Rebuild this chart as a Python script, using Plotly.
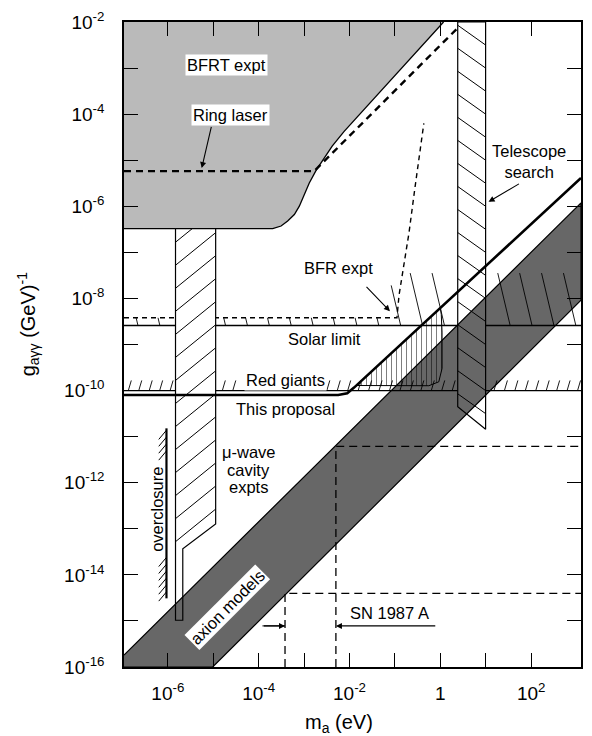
import numpy as np
import plotly.graph_objects as go

FONT = "Liberation Sans, Arial, sans-serif"

# Axis extents in log10 units: m_a in eV, g in GeV^-1
X_RANGE = [-6.965, 3.096]
Y_RANGE = [-16.0, -2.0]

# BFRT exclusion boundary (top edge -> bottom-left), log10 units
bfrt_log_m = [0.07, -2.118, -2.382, -2.557, -2.733, -2.886, -2.996, -3.105,
              -3.215, -3.362, -3.507, -3.691, -6.965]
bfrt_log_g = [-2.0, -4.373, -4.696, -4.955, -5.214, -5.494, -5.747, -5.997,
              -6.178, -6.321, -6.428, -6.487, -6.487]

# Ring laser sensitivity (dashed)
ring_log_m = [-6.965, -2.776, 0.513]
ring_log_g = [-5.236, -5.236, -2.0]

# BFR experiment limit (dashed)
bfr_log_m = [-6.965, -0.956, -0.91, -0.80, -0.69, -0.56, -0.364]
bfr_log_g = [-8.42, -8.42, -7.93, -7.28, -6.57, -5.60, -4.20]

# Horizontal astrophysical limits
solar_log_g = -8.586
red_giant_log_g = -10.0

# This proposal: sensitivity line and the near-1 eV region
prop_log_m = [-6.965, -2.25, -2.05, -1.90, 3.096]
prop_log_g = [-10.095, -10.095, -10.06, -9.936, -5.387]
prop_reg_log_m = [-1.84, 0.0, 0.02, 0.037, 0.037, -0.035, -0.254, -1.84]
prop_reg_log_g = [-9.89, -8.206, -8.35, -8.73, -9.52, -9.81, -9.895, -9.89]

# Telescope search band
tel_log_m = [0.382, 0.996, 0.996, 0.382]
tel_log_g = [-2.0, -2.0, -10.84, -10.35]

# Microwave cavity experiments (outline, and hatched wide part)
cav_log_m = [-5.831, -4.947, -4.947, -5.671, -5.671, -5.831, -5.831]
cav_log_g = [-6.487, -6.487, -12.893, -13.432, -14.985, -14.985, -6.487]
cav_hatch_log_m = [-5.831, -4.947, -4.947, -5.671, -5.831]
cav_hatch_log_g = [-6.487, -6.487, -12.893, -13.432, -13.432]

# Axion model band
axion_log_m = [-6.965, 3.096, 3.096, -5.013, -6.965]
axion_log_g = [-15.74, -5.926, -8.04, -16.0, -16.0]

# Overclosure bound and the two hatched stretches beside its label
over_log_m = -6.03
over_log_g = [-10.82, -14.51]
over_hatch_spans = [(-10.86, -11.36), (-13.62, -14.45)]

# SN 1987A bounds
sn_log_m = [-3.42, -2.30]
sn_log_g = [-14.40, -11.21]
sn_arrow_log_g = -15.108

# Text labels
label_text = ["BFRT expt", "Ring laser", "Telescope<br>search", "BFR expt",
              "Solar limit", "Red giants", "This proposal", "μ-wave", "cavity",
              "expts", "overclosure", "axion models", "SN 1987 A"]
label_log_m = [-4.706, -4.618, 1.961, -2.25, -2.557, -3.412, -3.412, -4.224,
               -4.224, -4.224, -6.241, -4.684, -1.110]
label_log_g = [-2.928, -4.028, -5.02, -7.349, -8.881, -9.765, -10.39, -11.34,
               -11.728, -12.095, -12.57, -14.705, -14.834]
label_angle = [0, 0, 0, 0, 0, 0, 0, 0, 0, 0, -90, -45, 0]
label_boxed = [True, True, False, False, False, True, False, False, False,
               False, False, True, False]

# Pointer arrows (head, tail)
arrow_head_m = [-5.254, 1.061, -1.110, -3.42, -2.30]
arrow_head_g = [-5.171, -5.904, -8.277, sn_arrow_log_g, sn_arrow_log_g]
arrow_tail_m = [-5.035, 1.763, -1.658, -3.917, -0.079]
arrow_tail_g = [-4.243, -5.494, -7.716, sn_arrow_log_g, sn_arrow_log_g]

# Decade ticks: labelled (even) and unlabelled (odd) exponents
x_major_exp = [-6, -4, -2, 0, 2]
x_minor_exp = [-5, -3, -1, 1]
y_major_exp = list(range(-16, -1, 2))
y_minor_exp = list(range(-15, -2, 2))


def pw(vals):
    return [None if v is None else 10.0 ** v for v in vals]


fig = go.Figure()


def add_line(xs, ys, width=1.2, dash="solid", color="black"):
    fig.add_trace(go.Scatter(
        x=pw(xs), y=pw(ys), mode="lines",
        line=dict(color=color, width=width, dash=dash),
        hoverinfo="skip", showlegend=False))


def add_fill(xs, ys, fillcolor, line_width=0.0, pattern=None):
    kw = {}
    if pattern is not None:
        kw["fillpattern"] = pattern
    fig.add_trace(go.Scatter(
        x=pw(xs), y=pw(ys), mode="lines", fill="toself", fillcolor=fillcolor,
        line=dict(color="black", width=line_width),
        hoverinfo="skip", showlegend=False, **kw))


def clip_convex(px, py, p0, d):
    """Clip the infinite line p0 + t*d to a convex polygon (Cyrus-Beck)."""
    pts = np.column_stack([px, py]).astype(float)
    area = 0.5 * np.sum(pts[:, 0] * np.roll(pts[:, 1], -1)
                        - np.roll(pts[:, 0], -1) * pts[:, 1])
    t0, t1 = -1e9, 1e9
    for i in range(len(pts)):
        a, b = pts[i], pts[(i + 1) % len(pts)]
        e = b - a
        n = np.array([-e[1], e[0]]) if area > 0 else np.array([e[1], -e[0]])
        num = np.dot(n, np.asarray(p0) - a)
        den = np.dot(n, d)
        if abs(den) < 1e-12:
            if num < 0:
                return None
            continue
        t = -num / den
        if den > 0:
            t0 = max(t0, t)
        else:
            t1 = min(t1, t)
    if t1 <= t0:
        return None
    p0 = np.asarray(p0)
    return p0 + t0 * d, p0 + t1 * d


def hatch_lines(px, py, slope, step):
    """Parallel lines of a given slope (decades/decade) filling a convex polygon."""
    d = np.array([1.0, slope])
    x0 = min(px)
    span = abs(slope) * (max(px) - min(px))
    xs, ys = [], []
    for c in np.arange(max(py) + span, min(py) - span, -step):
        seg = clip_convex(px, py, (x0, c), d)
        if seg is None:
            continue
        (ax, ay), (bx, by) = seg
        xs += [ax, bx, None]
        ys += [ay, by, None]
    return xs, ys


def in_band(x0, x1):
    lo, hi = min(x0, x1), max(x0, x1)
    for a, b in ((cav_log_m[0], cav_log_m[1]), (tel_log_m[0], tel_log_m[1])):
        if hi > a - 0.02 and lo < b + 0.02:
            return True
    return False


# BFRT region
add_fill(bfrt_log_m + [X_RANGE[0]], bfrt_log_g + [Y_RANGE[1]], "#bababa")
add_line(bfrt_log_m, bfrt_log_g, width=1.3)

# Ring laser and BFR dashed curves
add_line(ring_log_m, ring_log_g, width=2.4, dash="7px,5px")
add_line(bfr_log_m, bfr_log_g, width=1.4, dash="5px,4px")

# White backgrounds of the telescope and cavity bands
add_fill(tel_log_m, tel_log_g, "white")
add_fill(cav_log_m, cav_log_g, "white")

# Axion model band
add_fill(axion_log_m, axion_log_g, "#676767", line_width=1.2)

# Hatching of telescope and cavity bands, and their outlines
hx, hy = hatch_lines(tel_log_m, tel_log_g, -0.7, 0.5)
add_line(hx, hy, width=1.0)
add_line(tel_log_m + [tel_log_m[0]], tel_log_g + [tel_log_g[0]], width=1.2)
hx, hy = hatch_lines(cav_hatch_log_m, cav_hatch_log_g, 0.8, 0.5)
add_line(hx, hy, width=1.0)
add_line(cav_log_m, cav_log_g, width=1.2)

# Solar limit with hatching on the excluded side
xl, xr = X_RANGE
cl, cr = cav_log_m[0], cav_log_m[1]
tl, tr = tel_log_m[0], tel_log_m[1]
add_line([xl, cl, None, cr, tl, None, tr, xr],
         [solar_log_g, solar_log_g, None, solar_log_g, solar_log_g, None,
          solar_log_g, solar_log_g], width=1.6)
hx, hy = [], []
for xb in np.arange(-6.658, 3.05, 0.482):
    top = min(float(np.interp(xb, bfr_log_m, bfr_log_g)), -7.45)
    xt = xb - 0.24 * (top - solar_log_g)
    if in_band(xt, xb) or xt < xl:
        continue
    hx += [xb, xt, None]
    hy += [solar_log_g, top, None]
add_line(hx, hy, width=0.9)

# Red giants limit with hatching
add_line([xl, cl, None, cr, tl, None, tr, xr],
         [red_giant_log_g, red_giant_log_g, None, red_giant_log_g,
          red_giant_log_g, None, red_giant_log_g, red_giant_log_g], width=1.2)
hx, hy = [], []
for xb in np.arange(-6.87, 3.03, 0.23):
    xt = xb + 0.066
    if in_band(xb, xt) or -4.38 < xb < -2.52 or xt > xr:
        continue
    hx += [xb, xt, None]
    hy += [red_giant_log_g, red_giant_log_g + 0.22, None]
add_line(hx, hy, width=0.9)

# This proposal
add_fill(prop_reg_log_m, prop_reg_log_g, "rgba(0,0,0,0)", line_width=1.0,
         pattern=dict(shape="|", size=5, solidity=0.2, fgcolor="black",
                      bgcolor="rgba(0,0,0,0)"))
add_line(prop_log_m, prop_log_g, width=2.6)

# Overclosure bound with hatching
add_line([over_log_m, over_log_m], over_log_g, width=2.2)
hx, hy = [], []
for g_top, g_bot in over_hatch_spans:
    for yt in np.arange(g_top, g_bot, -0.15):
        hx += [over_log_m, over_log_m - 0.17, None]
        hy += [yt, yt - 0.2, None]
add_line(hx, hy, width=1.0)

# SN 1987A bounds
for m, g in zip(sn_log_m, sn_log_g):
    add_line([m, m, xr], [Y_RANGE[0], g, g], width=1.3, dash="8px,5px")
add_line([arrow_tail_m[3], arrow_head_m[3]], [sn_arrow_log_g] * 2, width=1.0)

annotations = []
for t, m, g, ang, boxed in zip(label_text, label_log_m, label_log_g,
                               label_angle, label_boxed):
    annotations.append(dict(
        x=m, y=g, xref="x", yref="y", text=t, showarrow=False,
        textangle=ang, font=dict(family=FONT, size=16.5, color="black"),
        bgcolor="white" if boxed else None, borderpad=1,
        xanchor="center", yanchor="middle"))
for hm, hg, tm, tg in zip(arrow_head_m, arrow_head_g, arrow_tail_m, arrow_tail_g):
    annotations.append(dict(
        x=hm, y=hg, xref="x", yref="y", ax=tm, ay=tg, axref="x", ayref="y",
        text="", showarrow=True, arrowhead=2, arrowsize=1.1, arrowwidth=1.1,
        arrowcolor="black", standoff=0, startstandoff=0))

# Axis titles
annotations.append(dict(
    x=0.47, y=-0.088, xref="paper", yref="paper", showarrow=False,
    text="m<sub>a</sub> (eV)", font=dict(family=FONT, size=20, color="black"),
    xanchor="center", yanchor="middle"))
annotations.append(dict(
    x=-0.209, y=0.532, xref="paper", yref="paper", showarrow=False,
    text="g<sub>aγγ</sub> (GeV)<sup>-1</sup>", textangle=-90,
    font=dict(family=FONT, size=20, color="black"),
    xanchor="center", yanchor="middle"))


def tick_label(n):
    return "1" if n == 0 else "10<sup>%d</sup>" % n


axis_common = dict(
    type="log", showline=True, linecolor="black", linewidth=1.5,
    mirror="ticks", ticks="inside", ticklen=14, tickwidth=1.3,
    tickcolor="black", showgrid=False, zeroline=False,
    tickfont=dict(family=FONT, size=19, color="black"))

fig.update_layout(
    width=592, height=736,
    margin=dict(l=124, r=9, t=18, b=69),
    paper_bgcolor="white", plot_bgcolor="white",
    showlegend=False, hovermode=False,
    annotations=annotations,
    xaxis=dict(range=X_RANGE, tickmode="array",
               tickvals=[10.0 ** n for n in x_major_exp],
               ticktext=[tick_label(n) for n in x_major_exp],
               minor=dict(tickmode="array",
                          tickvals=[10.0 ** n for n in x_minor_exp],
                          ticks="inside", ticklen=14, tickwidth=1.3,
                          tickcolor="black", showgrid=False),
               ticklabelstandoff=8, **axis_common),
    yaxis=dict(range=Y_RANGE, tickmode="array",
               tickvals=[10.0 ** n for n in y_major_exp],
               ticktext=[tick_label(n) for n in y_major_exp],
               minor=dict(tickmode="array",
                          tickvals=[10.0 ** n for n in y_minor_exp],
                          ticks="inside", ticklen=14, tickwidth=1.3,
                          tickcolor="black", showgrid=False),
               ticklabelstandoff=14, **axis_common),
)

fig.write_html("out.html")
